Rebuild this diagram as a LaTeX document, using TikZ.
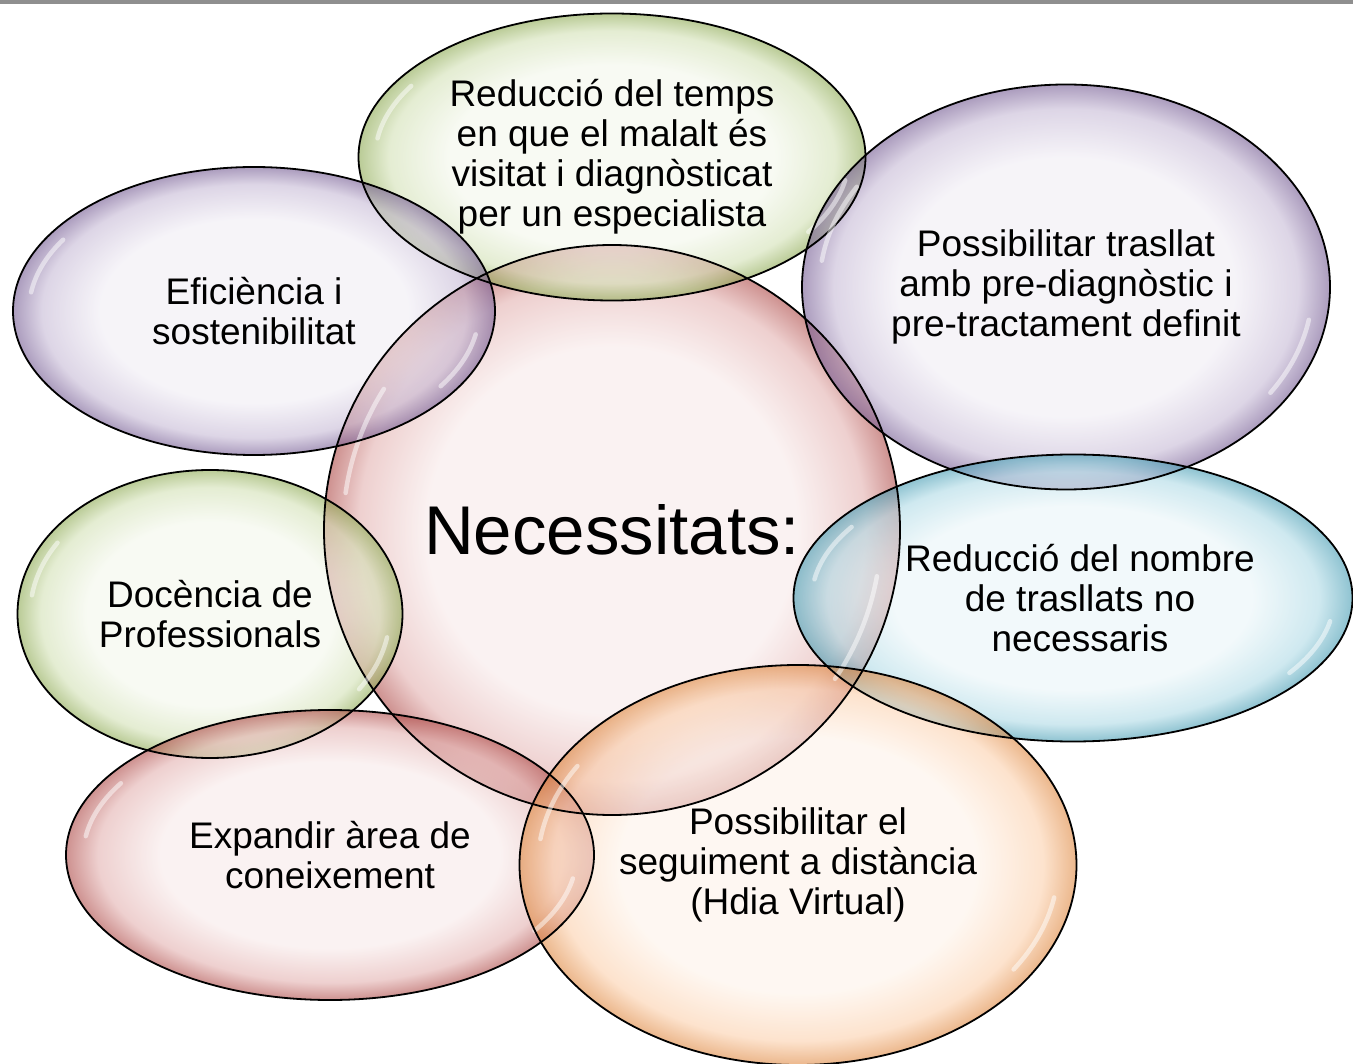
\documentclass[tikz,border=0pt]{standalone}
\usepackage{fontspec}
\setmainfont{Liberation Sans}
\usetikzlibrary{shapes.geometric}

\definecolor{bgreen}{RGB}{155,187,89}
\definecolor{bpurple}{RGB}{128,100,162}
\definecolor{bblue}{RGB}{75,172,198}
\definecolor{borange}{RGB}{247,150,70}
\definecolor{bred}{RGB}{192,80,77}

\newcommand\mkbubble[1]{%
  \colorlet{tmpin}{#1!12!white}\colorlet{tmpout}{#1!90!black}%
  \pgfdeclareradialshading{bub#1}{\pgfpoint{0bp}{0bp}}{%
    color(0bp)=(tmpin); color(16bp)=(tmpin); color(22bp)=(#1!45!white);
    color(25bp)=(tmpout); color(50bp)=(tmpout)}}
\mkbubble{bgreen}
\mkbubble{bpurple}
\mkbubble{bblue}
\mkbubble{borange}
\mkbubble{bred}

\tikzset{
  bubble/.style={ellipse, fill opacity=0.6, inner sep=0pt, shading=bub#1},
  rim/.style={ellipse, draw=black, line width=1.8pt, inner sep=0pt},
  gloss/.style={white, opacity=0.5, line width=4.5pt, line cap=round},
  txt/.style={align=center, font=\fontsize{37}{40}\selectfont},
}

% name/colour/x/y/width/height
\def\bubbles{need/bred/612/530/576/570, time/bgreen/612/157/507/287,
  effic/bpurple/254/311/482/288, trans/bpurple/1066/287/528/405,
  fewer/bblue/1073/598/559/287, teach/bgreen/210/614/385/288,
  expand/bred/330/855/528/290, follow/borange/798/865/557/400}

\begin{document}
\begin{tikzpicture}[x=1pt,y=-1pt]
  \useasboundingbox (0,0) rectangle (1353,1064);
  \fill[black!44] (0,0) rectangle (1353,4);

  \foreach \n/\c/\x/\y/\w/\h in \bubbles
    \node (\n) [bubble=\c, minimum width=\w pt, minimum height=\h pt] at (\x,\y) {};
  \foreach \n/\c/\x/\y/\w/\h in \bubbles {
    \draw[gloss] (\x,\y) ++(10:{0.467*\w} and {0.467*\h})
      arc[start angle=10, end angle=34, x radius={0.467*\w}, y radius={0.467*\h}];
    \draw[gloss] (\x,\y) ++(188:{0.467*\w} and {0.467*\h})
      arc[start angle=188, end angle=212, x radius={0.467*\w}, y radius={0.467*\h}];
    \node[rim, minimum width=\w pt, minimum height=\h pt] at (\n.center) {};
  }

  \node[font=\fontsize{69}{80}\selectfont] at (need.center) {Necessitats:};
  \node[txt] at (time.center) {Reducció del temps\\en que el malalt és\\visitat i diagnòsticat\\per un especialista};
  \node[txt] at (effic.center) {Eficiència i\\sostenibilitat};
  \node[txt] at (trans.center) {Possibilitar trasllat\\amb pre-diagnòstic i\\pre-tractament definit};
  \node[txt] at ([xshift=7pt]fewer.center) {Reducció del nombre\\de trasllats no\\necessaris};
  \node[txt] at (teach.center) {Docència de\\Professionals};
  \node[txt] at (expand.center) {Expandir àrea de\\coneixement};
  \node[txt] at (follow.center) {Possibilitar el\\seguiment a distància\\(Hdia Virtual)};
\end{tikzpicture}
\end{document}
